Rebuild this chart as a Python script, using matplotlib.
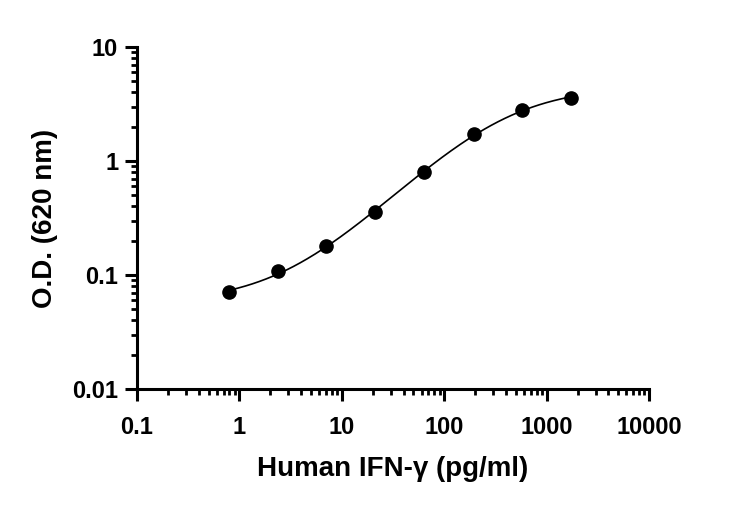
import numpy as np
import matplotlib.pyplot as plt
from matplotlib.ticker import LogLocator, FixedLocator, FixedFormatter, NullFormatter

# %% data
conc = [0.80, 2.37, 7.0, 21.0, 64.0, 193, 575, 1730]
od = [0.071, 0.108, 0.179, 0.357, 0.80, 1.73, 2.80, 3.57]
x_ticks = [0.1, 1, 10, 100, 1000, 10000]
x_tick_labels = ['0.1', '1', '10', '100', '1000', '10000']
y_ticks = [0.01, 0.1, 1, 10]
y_tick_labels = ['0.01', '0.1', '1', '10']

# %% 4PL fit of the points (grid over slope / EC50, linear LSQ for bottom / top)
# residuals weighted by 1/y so that the low points are followed as well
x = np.array(conc)
y = np.array(od)
w = 1 / y
best = None
for b in np.linspace(0.4, 2.5, 211):
    for logc in np.linspace(0, 4, 401):
        g = 1 / (1 + (x / 10**logc) ** b)
        A = np.column_stack([g, 1 - g])
        coef, *_ = np.linalg.lstsq(A * w[:, None], y * w, rcond=None)
        err = np.sum(((A @ coef - y) * w) ** 2)
        if best is None or err < best[0]:
            best = (err, b, logc, coef)
_, b, logc, (bottom, top) = best
xs = np.logspace(np.log10(x.min()), np.log10(x.max()), 300)
ys = top + (bottom - top) / (1 + (xs / 10**logc) ** b)

# %% plot
plt.rcParams['font.family'] = ['Liberation Sans', 'DejaVu Sans']
plt.rcParams['font.weight'] = 'bold'

fig = plt.figure(figsize=(7.31, 5.07), dpi=100)
ax = fig.add_axes([0.1874, 0.2327, 0.888 - 0.1874, 0.9073 - 0.2327])
ax.plot(xs, ys, color='black', lw=1.2)
ax.plot(conc, od, 'o', color='black', markersize=9.5)

ax.set_xscale('log')
ax.set_yscale('log')
ax.set_xlim(0.1, 10000)
ax.set_ylim(0.01, 10)
ax.xaxis.set_major_locator(FixedLocator(x_ticks))
ax.xaxis.set_major_formatter(FixedFormatter(x_tick_labels))
ax.yaxis.set_major_locator(FixedLocator(y_ticks))
ax.yaxis.set_major_formatter(FixedFormatter(y_tick_labels))
for a in (ax.xaxis, ax.yaxis):
    a.set_minor_locator(LogLocator(base=10, subs=np.arange(2, 10), numticks=20))
    a.set_minor_formatter(NullFormatter())

for s in ['top', 'right']:
    ax.spines[s].set_visible(False)
for s in ['left', 'bottom']:
    ax.spines[s].set_linewidth(2.2)
ax.tick_params(which='major', length=8.5, width=2.2, labelsize=17)
ax.tick_params(axis='x', which='major', pad=11)
ax.tick_params(axis='y', which='major', pad=5)
ax.tick_params(which='minor', length=4.5, width=2)
for lab in ax.get_xticklabels() + ax.get_yticklabels():
    lab.set_fontweight('bold')

ax.set_xlabel('Human IFN-γ (pg/ml)', fontsize=20, fontweight='bold', labelpad=12)
ax.set_ylabel('O.D. (620 nm)', fontsize=20, fontweight='bold', labelpad=10)

fig.savefig('out.png', dpi=100)
